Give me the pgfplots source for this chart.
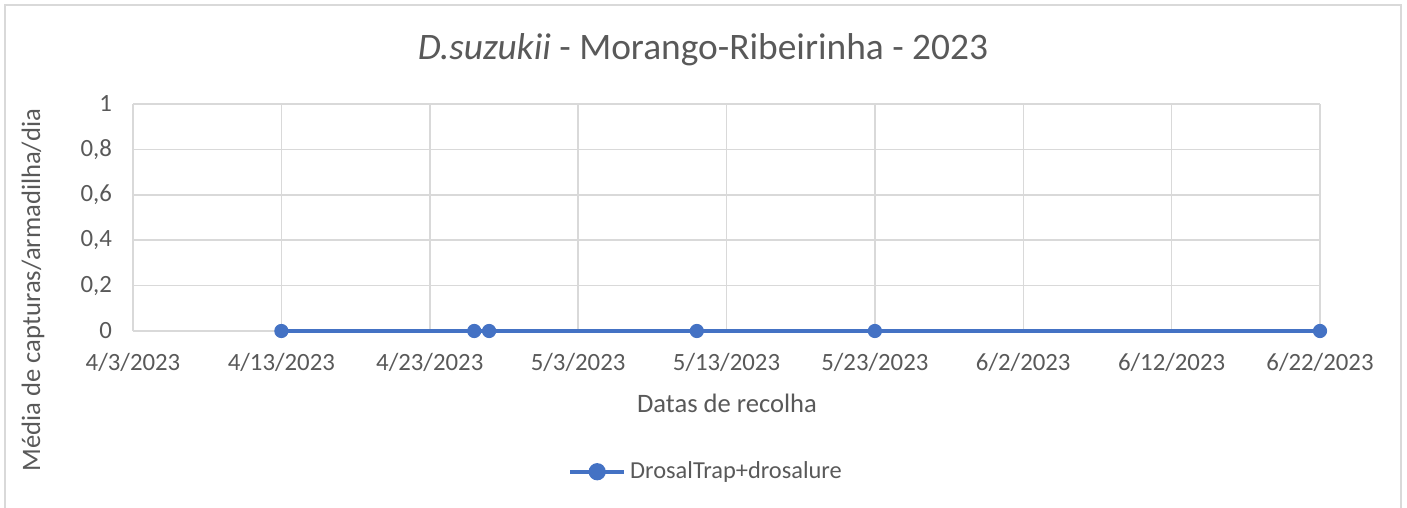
\documentclass[border=0pt]{standalone}
\usepackage{fontspec}
\setmainfont{Carlito}
\usepackage{pgfplots}
\pgfplotsset{compat=1.18}
\definecolor{txt}{HTML}{595959}
\definecolor{grd}{HTML}{D9D9D9}
\definecolor{ser}{HTML}{4472C4}
\begin{document}
\begin{tikzpicture}
\useasboundingbox (0pt,0pt) rectangle (703.5pt,254pt);
\draw[grd, line width=0.6pt] (2.5pt,-10pt) rectangle (700.5pt,251.5pt);
\node[txt, font=\fontsize{18.7}{22}\selectfont] at (351.5pt,229pt) {\textit{D.suzukii} - Morango-Ribeirinha - 2023};
\node[txt, font=\fontsize{13.3}{16}\selectfont, rotate=90] at (16.5pt,109pt) {Média de capturas/armadilha/dia};
\node[txt, font=\fontsize{13.3}{16}\selectfont] at (363.5pt,52.5pt) {Datas de recolha};
\begin{axis}[
  at={(66.5pt,88.5pt)}, anchor=south west,
  scale only axis, width=593.5pt, height=113.5pt,
  xmin=0, xmax=80, ymin=0, ymax=1,
  xtick={0,10,...,80},
  xticklabels={4/3/2023,4/13/2023,4/23/2023,5/3/2023,5/13/2023,5/23/2023,6/2/2023,6/12/2023,6/22/2023},
  ytick={0,0.2,0.4,0.6,0.8,1},
  yticklabels={0,{0,2},{0,4},{0,6},{0,8},1},
  major tick length=0pt,
  grid=major,
  grid style={grd, line width=0.75pt},
  axis line style={draw=none},
  clip=false,
  tick label style={txt, font=\fontsize{12.4}{14}\selectfont},
  xticklabel style={yshift=-7.5pt},
  yticklabel style={xshift=-7pt},
  legend style={at={(axis description cs:0.4836,-0.62)}, anchor=center, draw=none, fill=none,
    font=\fontsize{12.2}{14}\selectfont, text=txt},
  legend image code/.code={\draw[ser, line width=2pt] (0pt,0pt) -- (27pt,0pt); \fill[ser] (13.5pt,0pt) circle (3.3pt);},
]
\addplot[ser, line width=2pt, mark=*, mark size=3.3pt, mark options={fill=ser, draw=ser, line width=0.5pt}] coordinates {
(10,0) (23,0) (24,0) (38,0) (50,0) (80,0)
};
\addlegendentry{DrosalTrap+drosalure}
\end{axis}
\end{tikzpicture}
\end{document}
